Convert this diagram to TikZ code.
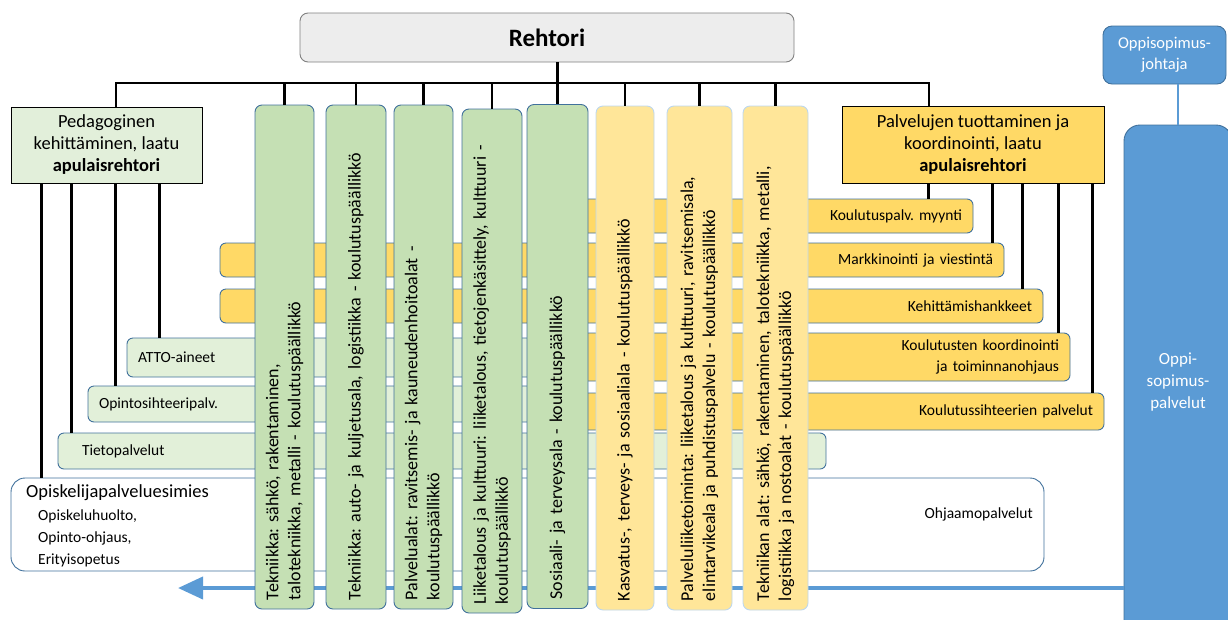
\documentclass[tikz,border=0pt]{standalone}
\usepackage{fontspec}
\setmainfont{Carlito}
\frenchspacing
\usetikzlibrary{arrows.meta}

\definecolor{greencol}{HTML}{C5E0B4}
\definecolor{lightgreen}{HTML}{E2F0D9}
\definecolor{pedagfill}{HTML}{E2EFDA}
\definecolor{yellowcol}{HTML}{FFE699}
\definecolor{yellowband}{HTML}{FFD966}
\definecolor{bluefill}{HTML}{5B9BD5}
\definecolor{blueedge}{HTML}{41719C}
\definecolor{paleblue}{HTML}{BDD7EE}
\definecolor{grayfill}{HTML}{EDEDED}
\definecolor{grayedge}{HTML}{808080}

\begin{document}
\begin{tikzpicture}[x=1pt, y=-1pt,
    conn/.style={line width=2.5pt},
    chief/.style={draw=black, line width=1pt, align=center, font=\fontsize{18.5}{22}\selectfont},
    column/.style={rotate=90, rounded corners=7pt, line width=0.9pt, minimum width=504pt,
      text width=486pt, inner xsep=9pt, inner ysep=0pt, align=left, font=\fontsize{18}{22}\selectfont},
    greencolumn/.style={column, draw=blueedge, fill=greencol},
    yellowcolumn/.style={column, draw=paleblue, fill=yellowcol},
    band/.style={draw=blueedge, line width=0.9pt, rounded corners=6pt, inner xsep=11pt, inner ysep=0pt,
      font=\fontsize{15.5}{21}\selectfont},
    yband/.style={band, fill=yellowband, align=right},
    gband/.style={band, fill=lightgreen, align=left},
    bluebox/.style={draw=blueedge, fill=bluefill, line width=0.9pt, text=white, align=center}]

  \useasboundingbox (0,0) rectangle (1228,619);
  \clip (0,0) rectangle (1228,619);

  % oppisopimus
  \node[bluebox, rounded corners=9pt, minimum width=123pt, minimum height=58pt,
    font=\fontsize{16.5}{21}\selectfont] (johtaja) at (1164.5,55) {Oppisopimus-\\johtaja};
  \node[bluebox, rounded corners=16pt, minimum width=108pt, minimum height=514pt,
    font=\fontsize{17}{22}\selectfont] (oppipalv) at (1178,382) {Oppi-\\sopimus-\\palvelut};
  \draw[bluefill, line width=2pt] (oppipalv.north) -- (oppipalv.north |- johtaja.south);

  % bands behind the columns
  \node[yband, minimum width=413pt, text width=391pt, minimum height=34pt] (myynti) at (766.5,216) {Koulutuspalv. myynti};
  \node[yband, minimum width=784pt, text width=762pt, minimum height=34pt] (markk) at (612,260) {Markkinointi ja viestintä};
  \node[yband, minimum width=823pt, text width=801pt, minimum height=34pt] (kehit) at (631.5,306) {Kehittämishankkeet};
  \node[yband, minimum width=510pt, text width=488pt, minimum height=48pt] (koord) at (815,357) {Koulutusten koordinointi\\ja toiminnanohjaus};
  \node[yband, minimum width=544pt, text width=522pt, minimum height=37pt] (siht) at (832,411.5) {Koulutussihteerien palvelut};

  \node[gband, minimum width=433pt, text width=411pt, minimum height=39pt] (atto) at (343.5,357.5) {ATTO-aineet};
  \node[gband, minimum width=472pt, text width=450pt, minimum height=36pt] (opint) at (324,404) {Opintosihteeripalv.};
  \node[gband, inner xsep=24pt, minimum width=768pt, text width=720pt, minimum height=36pt] (tieto) at (442,451) {Tietopalvelut};

  \node[draw=blueedge, line width=0.9pt, fill=white, rounded corners=14pt, minimum width=1033pt,
    minimum height=93pt] (opiskelu) at (527.5,524.5) {};
  \node[anchor=west, inner sep=0pt, font=\fontsize{18.5}{20}\selectfont] (esimies) at (26,493) {Opiskelijapalveluesimies};
  \node[anchor=west, inner sep=0pt, align=left, font=\fontsize{15.5}{22}\selectfont] (ohjaus) at (38,538) {Opiskeluhuolto,\\Opinto-ohjaus,\\Erityisopetus};
  \node[anchor=east, inner sep=0pt, font=\fontsize{15.5}{20}\selectfont] (ohjaamo) at (1033,514) {Ohjaamopalvelut};

  \coordinate (arrowtip) at (178,588);
  \draw[bluefill, line width=4pt, -{Triangle[length=25pt,width=22pt]}] (oppipalv.west |- arrowtip) -- (arrowtip);

  % columns
  \node[greencolumn, minimum height=59pt] (tekn1) at (284.5,357) {Tekniikka: sähkö, rakentaminen,\\talotekniikka, metalli - koulutuspäällikkö};
  \node[greencolumn, minimum height=60pt] (tekn2) at (356,357) {Tekniikka: auto- ja kuljetusala, logistiikka - koulutuspäällikkö};
  \node[greencolumn, minimum height=59pt] (palvala) at (423.5,357) {Palvelualat: ravitsemis- ja kauneudenhoitoalat -\\koulutuspäällikkö};
  \node[greencolumn, minimum height=60pt] (liike) at (492,361) {Liiketalous ja kulttuuri: liiketalous, tietojenkäsittely, kulttuuri -\\koulutuspäällikkö};
  \node[greencolumn, minimum height=61pt] (sosiaali) at (557.5,356.5) {Sosiaali- ja terveysala - koulutuspäällikkö};
  \node[yellowcolumn, minimum height=58pt] (kasvatus) at (625,358) {Kasvatus-, terveys- ja sosiaaliala - koulutuspäällikkö};
  \node[yellowcolumn, minimum height=65pt] (palvliike) at (699.5,358) {Palveluliiketoiminta: liiketalous ja kulttuuri, ravitsemisala,\\elintarvikeala ja puhdistuspalvelu - koulutuspäällikkö};
  \node[yellowcolumn, minimum height=65pt] (tekalat) at (775.5,358) {Tekniikan alat: sähkö, rakentaminen, talotekniikka, metalli,\\logistiikka ja nostoalat - koulutuspäällikkö};

  % top
  \node[draw=grayedge, line width=0.9pt, fill=grayfill, rounded corners=8pt, minimum width=494pt, minimum height=49pt,
    font=\fontsize{25}{28}\selectfont\bfseries] (rehtori) at (547,37.5) {Rehtori};
  \node[chief, fill=pedagfill, minimum width=191pt, minimum height=76pt] (pedag) at (106.5,145) {Pedagoginen\\kehittäminen, laatu\\\textbf{apulaisrehtori}};
  \node[chief, fill=yellowband, minimum width=262pt, minimum height=77pt] (palvjoht) at (973,144.5) {Palvelujen tuottaminen ja\\koordinointi, laatu\\\textbf{apulaisrehtori}};

  % connectors
  \coordinate (bar) at (0,83);
  \path ([xshift=9.5pt]pedag.north) coordinate (pedagtop)
        ([xshift=-44pt]palvjoht.north) coordinate (palvtop);
  \draw[conn] (pedagtop) |- (palvtop |- bar) -- (palvtop);
  \draw[conn] (rehtori.south -| sosiaali.east) -- (sosiaali.east);
  \foreach \c in {tekn1,tekn2,palvala,liike,kasvatus,palvliike,tekalat}
    \draw[conn] (\c.east) -- (\c.east |- bar);
  \foreach \dx/\t in {31/opiskelu, 61/tieto, 105/opint, 149/atto} {
    \path ([xshift=\dx pt]pedag.south west) coordinate (p);
    \draw[conn] (p) -- (p |- \t.north);
  }
  \foreach \dx/\t in {87/myynti, 151/markk, 181/kehit, 217/koord, 251/siht} {
    \path ([xshift=\dx pt]palvjoht.south west) coordinate (p);
    \draw[conn] (p) -- (p |- \t.north);
  }
\end{tikzpicture}
\end{document}
